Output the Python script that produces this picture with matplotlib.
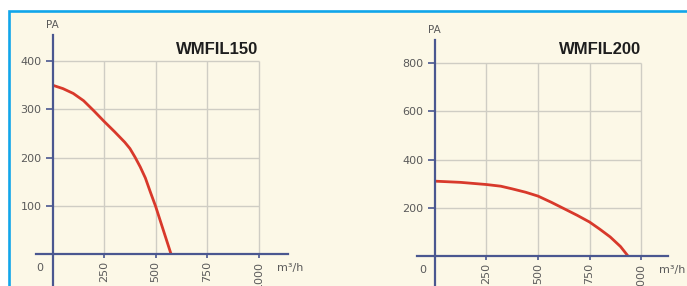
import matplotlib.pyplot as plt
from matplotlib.patches import Rectangle

# fan curves
flow_150 = [0, 50, 100, 150, 200, 250, 300, 350, 375, 400, 425, 450, 475,
            500, 525, 550, 575]
pa_150 = [350, 343, 333, 318, 297, 275, 254, 232, 219, 201, 181, 158, 128,
          99, 66, 33, 0]
flow_200 = [0, 125, 250, 320, 375, 440, 500, 565, 630, 690, 750, 800, 850,
            900, 935]
pa_200 = [310, 305, 296, 289, 278, 264, 248, 222, 194, 168, 140, 110, 78,
          38, 0]

x_ticks = [250, 500, 750, 1000]
x_labels = ['250', '500', '750', '1000']
y_ticks_150 = [100, 200, 300, 400]
y_ticks_200 = [200, 400, 600, 800]

W, H = 687, 286
cream = '#fcf8e7'
blue = '#11a6ea'
axis_col = '#4a5790'
grid_col = '#cfcdc4'
text_col = '#5a5a5a'
curve_col = '#d8392b'

fig = plt.figure(figsize=(W / 100, H / 100), dpi=100, facecolor='white')
fig.patches.append(Rectangle((8.5 / W, -0.1), 1.2, 1 - 10.5 / H + 0.1,
                             transform=fig.transFigure, facecolor=cream,
                             edgecolor=blue, lw=1.9, zorder=-5))


def panel(rect, xlim, ylim, flow, pa, yticks, title, title_y):
    ax = fig.add_axes(rect)
    ax.set_zorder(2)
    ax.set_facecolor('none')
    ax.set_xlim(*xlim)
    ax.set_ylim(*ylim)
    ymax = yticks[-1]

    ax.vlines(x_ticks, 0, ymax, color=grid_col, lw=1.0, zorder=1)
    ax.hlines(yticks, 0, x_ticks[-1], color=grid_col, lw=1.0, zorder=1)

    ax.plot(flow, pa, color=curve_col, lw=2.0, zorder=3,
            solid_capstyle='butt', solid_joinstyle='round')

    for side in ['top', 'right']:
        ax.spines[side].set_visible(False)
    for side in ['left', 'bottom']:
        ax.spines[side].set_position(('data', 0))
        ax.spines[side].set_color(axis_col)
        ax.spines[side].set_linewidth(1.6)
        ax.spines[side].set_zorder(4)

    ax.set_xticks(x_ticks)
    ax.set_xticklabels(x_labels, rotation=90)
    ax.set_yticks(yticks)
    ax.set_yticklabels([str(v) for v in yticks])
    ax.tick_params(axis='x', direction='out', length=3, width=1.2, pad=2,
                   color=axis_col, labelcolor=text_col, labelsize=8)
    ax.tick_params(axis='y', direction='out', length=5, width=1.2, pad=3,
                   color=axis_col, labelcolor=text_col, labelsize=8)

    ax.annotate('0', xy=(0, 0), xytext=(-9, -10), textcoords='offset points',
                ha='center', va='center', fontsize=8, color=text_col)
    ax.annotate('m³/h', xy=(x_ticks[-1], 0), xytext=(13, -10),
                textcoords='offset points', ha='left', va='center',
                fontsize=8, color=text_col, annotation_clip=False)
    ax.annotate('PA', xy=(0, 1), xycoords=('data', 'axes fraction'),
                xytext=(0, 7), textcoords='offset points', ha='center',
                va='center', fontsize=7.5, color=text_col,
                annotation_clip=False)
    ax.text(x_ticks[-1], title_y, title, ha='right', va='center',
            fontsize=12, fontweight='bold', color='#1e1e1e',
            family='Liberation Sans')
    return ax


panel([36.2 / W, 0, 251.3 / W, 251 / H], (-80, 1140), (-65.6, 454),
      flow_150, pa_150, y_ticks_150, 'WMFIL150', 425)
panel([417 / W, 0, 251 / W, 246 / H], (-86, 1130), (-126, 897),
      flow_200, pa_200, y_ticks_200, 'WMFIL200', 858)

fig.savefig('out.png', dpi=100, facecolor=fig.get_facecolor())
